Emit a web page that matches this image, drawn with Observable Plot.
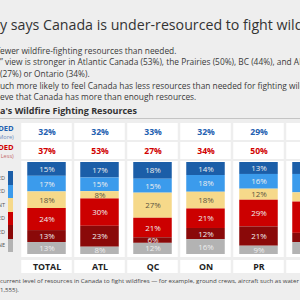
<!DOCTYPE html>
<html>
<head>
<meta charset="utf-8">
<script src="https://cdn.jsdelivr.net/npm/d3@7"></script>
<script src="https://cdn.jsdelivr.net/npm/@observablehq/plot@0.6"></script>
<style>
  html, body { margin: 0; padding: 0; }
  body {
    width: 300px; height: 300px; overflow: hidden; position: relative;
    background: #eeeeee; font-family: "Open Sans", sans-serif; color: #333;
  }
  .line { position: absolute; left: 0; white-space: nowrap; line-height: 1; }
  .title { top: 17.5px; font-size: 14.2px; color: #333; }
  .sub { font-size: 8.35px; color: #3a3a3a; }
  .heading { top: 106px; font-size: 9px; font-weight: 700; color: #333; }
  .rule { position: absolute; left: 0; top: 118px; width: 300px; height: 1px; background: #c4c4c4; }
  .caption { font-size: 6.1px; color: #444; }
  .chart { position: absolute; left: 0; width: 345px; }
  .chart svg { max-width: none !important; display: block; }
  .legend { position: absolute; left: 0; top: 171px; width: 14px; }
  .legend .item { position: relative; height: 13.5px; }
  .legend .swatch { position: absolute; left: 8px; top: 0; width: 5px; height: 100%; }
  .legend .label { position: absolute; right: 9px; top: 50%; transform: translateY(-50%);
    font-size: 5.6px; color: #555; white-space: nowrap; text-transform: uppercase; }
</style>
</head>
<body>
<div class="line title" data-cut="Majorit">Majority says Canada is under-resourced to fight wildfires</div>
<div class="line sub" style="top:46.5px" data-cut="Most say Canada has f">Most say Canada has fewer wildfire-fighting resources than needed.</div>
<div class="line sub" style="top:58px" data-cut="This “less than needed">This “less than needed” view is stronger in Atlantic Canada (53%), the Prairies (50%), BC (44%), and Alberta</div>
<div class="line sub" style="top:69.5px" data-cut="than in Quebec ">than in Quebec (27%) or Ontario (34%).</div>
<div class="line sub" style="top:81.5px" data-cut="Western Canadians are m">Western Canadians are much more likely to feel Canada has less resources than needed for fighting wildfires,</div>
<div class="line sub" style="top:93px" data-cut="while fewer beli">while fewer believe that Canada has more than enough resources.</div>
<div class="line heading" data-cut="Canad">Canada's Wildfire Fighting Resources</div>
<div class="rule"></div>

<div id="rows" class="chart" style="top:121px"></div>
<div id="bars" class="chart" style="top:160px"></div>
<div id="labels" class="chart" style="top:259px"></div>
<div id="legend" class="legend"></div>

<div class="line caption" style="top:278px" data-cut="How would you rate the ">How would you rate the current level of resources in Canada to fight wildfires — for example, ground crews, aircraft such as water bombers</div>
<div class="line caption" style="top:286.5px">1,555).</div>

<script>
// Regions shown across the table
const columns = ["TOTAL", "ATL", "QC", "ON", "PR", "BC"];

// Net rows printed above the bars
const moreNet = [32, 32, 33, 32, 29, 33];
const lessNet = [37, 53, 27, 34, 50, 44];

// Response categories, top of the bar to the bottom
const categories = [
  "Much more than needed",
  "Somewhat more than needed",
  "About the right amount",
  "Somewhat less than needed",
  "Much less than needed",
  "Not sure / Don't know enough to say / None"
];
const palette = ["#1b5ea8", "#3b9bec", "#f6d98a", "#cc0000", "#8a0909", "#b3b3b3"];

// Share per region for each category (%)
const muchMore     = [15, 17, 18, 14, 13, 13];
const somewhatMore = [17, 15, 15, 18, 16, 20];
const aboutRight   = [18,  8, 27, 18, 12, 10];
const somewhatLess = [24, 30, 21, 21, 29, 34];
const muchLess     = [13, 23,  6, 12, 21, 10];
const notSure      = [13,  8, 12, 16,  9, 13];

const series = [muchMore, somewhatMore, aboutRight, somewhatLess, muchLess, notSure];
const table = columns.flatMap((column, i) =>
  categories.map((category, j) => ({column, category, value: series[j][i]}))
);

// Shared horizontal layout: one band per region
const W = 345, ML = 18.25, MR = 5.75;
const xScale = {domain: columns, padding: 0, axis: null};
const base = {
  width: W, marginLeft: ML, marginRight: MR,
  style: {background: "transparent", fontFamily: "Open Sans", overflow: "visible", maxWidth: "none"}
};
const blue = "#2360b0", red = "#d10000";

// Net "more" / "less" rows
const rowsPlot = Plot.plot({
  ...base, height: 39, marginTop: 0, marginBottom: 0,
  x: xScale,
  y: {domain: ["more", "less"], padding: 0, axis: null},
  marks: [
    Plot.cell(columns, {x: d => d, y: () => "more", fill: "white", insetLeft: 1.25, insetRight: 1.25, insetTop: 1, insetBottom: 1}),
    Plot.cell(columns, {x: d => d, y: () => "less", fill: "white", insetLeft: 1.25, insetRight: 1.25, insetTop: 1, insetBottom: 1}),
    Plot.text(columns, {x: d => d, y: () => "more", text: (d, i) => moreNet[i] + "%", fill: blue, fontSize: 8.6, fontWeight: 700}),
    Plot.text(columns, {x: d => d, y: () => "less", text: (d, i) => lessNet[i] + "%", fill: red, fontSize: 8.6, fontWeight: 700}),
    Plot.text(["more"], {y: d => d, frameAnchor: "left", textAnchor: "end", dx: -5, dy: -3, text: () => "MORE THAN NEEDED", fill: blue, fontSize: 7.6, fontWeight: 700}),
    Plot.text(["more"], {y: d => d, frameAnchor: "left", textAnchor: "end", dx: -5, dy: 5, text: () => "(Much/Somewhat More)", fill: "#6d8dbd", fontSize: 5.6}),
    Plot.text(["less"], {y: d => d, frameAnchor: "left", textAnchor: "end", dx: -5, dy: -3, text: () => "LESS THAN NEEDED", fill: red, fontSize: 7.6, fontWeight: 700}),
    Plot.text(["less"], {y: d => d, frameAnchor: "left", textAnchor: "end", dx: -5, dy: 5, text: () => "(Much/Somewhat Less)", fill: "#c46a6a", fontSize: 5.6})
  ]
});
document.getElementById("rows").append(rowsPlot);

// Stacked 100% bars
const stackOpts = (extra) => Plot.stackY({offset: "normalize", x: "column", y: "value", ...extra});
const barsPlot = Plot.plot({
  ...base, height: 98, marginTop: 2, marginBottom: 4,
  x: xScale,
  y: {domain: [0, 1], reverse: true, axis: null},
  color: {domain: categories, range: palette},
  marks: [
    Plot.barY(columns, {x: d => d, y1: () => 0, y2: () => 1, fill: "white", insetLeft: 1.25, insetRight: 1.25, insetTop: -1, insetBottom: -3}),
    Plot.barY(table, stackOpts({fill: "category", insetLeft: 7.25, insetRight: 7.25})),
    Plot.text(table, stackOpts({
      text: d => d.category === categories[2] ? "" : d.value + "%",
      fill: "#eeeeee", fontSize: 7.9
    })),
    Plot.text(table, stackOpts({
      text: d => d.category === categories[2] ? d.value + "%" : "",
      fill: "#5b5440", fontSize: 7.9
    }))
  ]
});
document.getElementById("bars").append(barsPlot);

// Region labels along the bottom
const labelsPlot = Plot.plot({
  ...base, height: 15, marginTop: 0, marginBottom: 0,
  x: xScale,
  marks: [
    Plot.cell(columns, {x: d => d, fill: "white", insetLeft: 1.25, insetRight: 1.25, insetTop: 1, insetBottom: 1}),
    Plot.text(columns, {x: d => d, text: d => d, fill: "#222", fontSize: 8.8, fontWeight: 700})
  ]
});
document.getElementById("labels").append(labelsPlot);

// Category legend on the left
const legend = document.getElementById("legend");
categories.forEach((c, i) => {
  const item = document.createElement("div");
  item.className = "item";
  item.innerHTML = `<div class="swatch" style="background:${palette[i]}"></div><div class="label">${c}</div>`;
  legend.append(item);
});

// Lines whose start runs off the left edge
document.querySelectorAll("[data-cut]").forEach(el => {
  const cut = el.dataset.cut;
  const probe = document.createElement("span");
  probe.textContent = cut;
  probe.style.cssText = "position:absolute;visibility:hidden;white-space:pre;font:inherit";
  el.append(probe);
  const w = probe.getBoundingClientRect().width;
  probe.remove();
  el.style.left = (-w) + "px";
});
</script>
</body>
</html>
